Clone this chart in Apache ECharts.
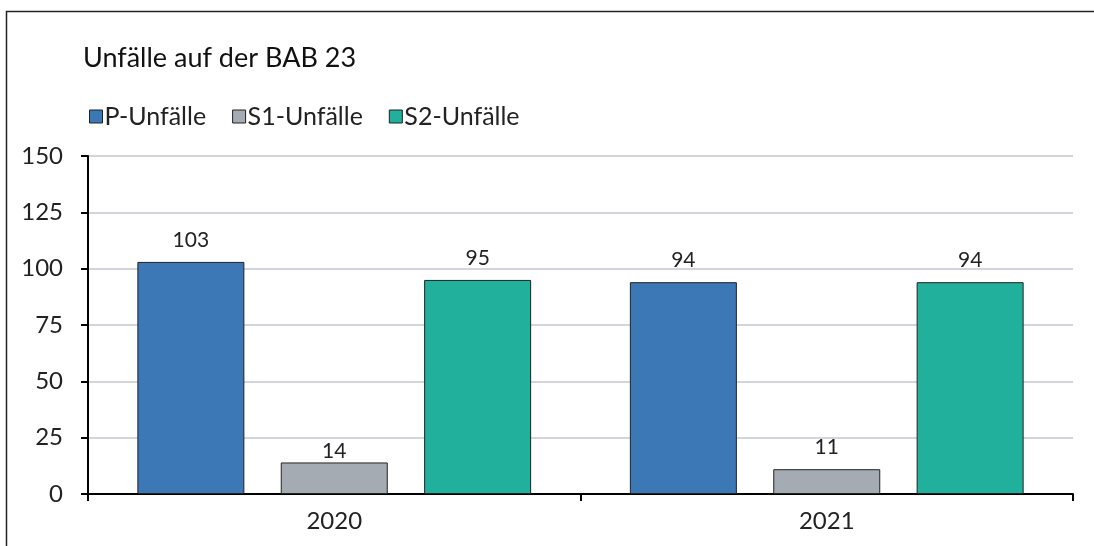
<!DOCTYPE html>
<html>
<head>
    <meta charset="utf-8">
    <title>Unfälle auf der BAB 23</title>
    <script src="https://cdn.jsdelivr.net/npm/echarts@6/dist/echarts.min.js"></script>
    <style>
        html, body { margin: 0; padding: 0; background: #fff; }
    </style>
</head>
<body>
    <div id="main" style="width: 1094px;height:546px;"></div>
    <script type="text/javascript">
        var myChart = echarts.init(document.getElementById('main'));

        // Daten
        const years = ['2020', '2021'];
        const pUnfaelle = [103, 94];
        const s1Unfaelle = [14, 11];
        const s2Unfaelle = [95, 94];
        const yTicks = [0, 25, 50, 75, 100, 125, 150];

        const font = 'Lato, "Open Sans", sans-serif';

        function barSeries(name, data, color) {
            return {
                name: name,
                type: 'bar',
                data: data,
                barWidth: 107,
                barGap: '34%',
                itemStyle: { color: color, borderColor: '#222', borderWidth: 1 },
                label: {
                    show: true,
                    position: 'top',
                    distance: 11,
                    color: '#222',
                    fontSize: 21,
                    fontFamily: font
                }
            };
        }

        const s1 = barSeries('S1-Unfälle', s1Unfaelle, '#a5abb3');
        // Excel hat die Beschriftung "14" unter die Gitterlinie gerückt
        s1.data = s1Unfaelle.map((v, i) => i === 0 ? { value: v, label: { distance: 1 } } : v);

        var option = {
            animation: false,
            title: {
                text: 'Unfälle auf der BAB 23',
                left: 78,
                top: 40,
                textStyle: { fontSize: 27, fontWeight: 'normal', color: '#111', fontFamily: font }
            },
            legend: {
                left: 84,
                top: 99,
                itemWidth: 13,
                itemHeight: 13,
                itemGap: 26,
                icon: 'rect',
                textStyle: { fontSize: 25, color: '#222', fontFamily: font, padding: [0, 0, 0, -3] },
                itemStyle: { borderColor: '#222', borderWidth: 1 }
            },
            graphic: [{
                type: 'rect',
                shape: { x: 6.5, y: 11.5, width: 1200, height: 700 },
                style: { fill: null, stroke: '#222', lineWidth: 1.5 },
                silent: true
            }],
            grid: { left: 88, right: 21, top: 156, bottom: 52 },
            xAxis: {
                type: 'category',
                data: years,
                axisLine: { lineStyle: { color: '#000', width: 2 } },
                axisTick: { show: true, length: 7, lineStyle: { color: '#000', width: 2 } },
                axisLabel: { fontSize: 24, color: '#222', fontFamily: font, margin: 15 }
            },
            yAxis: {
                type: 'value',
                min: yTicks[0],
                max: yTicks[yTicks.length - 1],
                interval: 25,
                axisLine: { show: true, lineStyle: { color: '#000', width: 2 } },
                axisTick: { show: true, length: 7, lineStyle: { color: '#000', width: 2 } },
                axisLabel: { fontSize: 24, color: '#222', fontFamily: font, margin: 25 },
                splitLine: { lineStyle: { color: '#c3c8d0', width: 1.5 } }
            },
            series: [
                barSeries('P-Unfälle', pUnfaelle, '#3c78b6'),
                s1,
                barSeries('S2-Unfälle', s2Unfaelle, '#20b09b')
            ]
        };

        myChart.setOption(option);
    </script>
</body>
</html>
